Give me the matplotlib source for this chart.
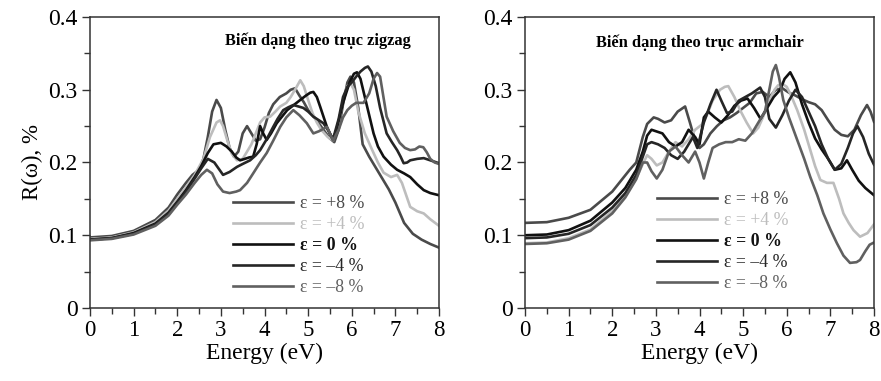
import matplotlib
matplotlib.use("Agg")
import matplotlib.pyplot as plt
from matplotlib.ticker import MultipleLocator, FuncFormatter

plt.rcParams['font.family'] = ['Liberation Serif', 'DejaVu Serif']
plt.rcParams['mathtext.fontset'] = 'stix'

labels = ["ε = +8 %", "ε = +4 %", "ε = 0 %", "ε = –4 %", "ε = –8 %"]
colors = ['#4a4a4a', '#bdbdbd', '#111111', '#262626', '#606060']
panel_titles = ["Biến dạng theo trục zigzag", "Biến dạng theo trục armchair"]
xlabel = "Energy (eV)"
ylabel = "R(ω), %"

# ---- zigzag strain ----
zz_p8_E = [0, 0.5, 1.0, 1.5, 1.8, 2.0, 2.2, 2.35, 2.5, 2.6, 2.7, 2.8, 2.9, 3.0, 3.1, 3.2, 3.3, 3.4, 3.5, 3.6,
           3.7, 3.8, 3.9, 4.0, 4.1, 4.2, 4.35, 4.5, 4.6, 4.7, 4.8, 4.9, 5.0, 5.1, 5.2, 5.35, 5.5, 5.6, 5.7, 5.8,
           5.9, 5.97, 6.05, 6.15, 6.25, 6.4, 6.55, 6.7, 6.85, 7.0, 7.2, 7.4, 7.6, 7.8, 8.0]
zz_p8_R = [0.097, 0.099, 0.106, 0.121, 0.138, 0.156, 0.172, 0.183, 0.19, 0.205, 0.235, 0.27, 0.286, 0.275, 0.245,
           0.22, 0.208, 0.215, 0.24, 0.25, 0.24, 0.23, 0.232, 0.248, 0.268, 0.28, 0.29, 0.295, 0.3, 0.302,
           0.292, 0.283, 0.272, 0.265, 0.258, 0.245, 0.233, 0.228, 0.245, 0.28, 0.31, 0.318, 0.31, 0.275, 0.225,
           0.208, 0.193, 0.178, 0.163, 0.145, 0.117, 0.102, 0.094, 0.088, 0.083]

zz_p4_E = [0, 0.5, 1.0, 1.5, 1.8, 2.0, 2.2, 2.4, 2.6, 2.75, 2.9, 2.98, 3.05, 3.15, 3.25, 3.37, 3.5, 3.6, 3.7, 3.8,
           3.9, 4.0, 4.13, 4.25, 4.36, 4.5, 4.6, 4.7, 4.82, 4.9, 5.0, 5.1, 5.2, 5.3, 5.45, 5.57, 5.7, 5.8, 5.9, 5.97,
           6.05, 6.15, 6.3, 6.47, 6.6, 6.73, 6.9, 7.04, 7.15, 7.34, 7.5, 7.65, 7.8, 8.0]
zz_p4_R = [0.095, 0.097, 0.104, 0.118, 0.134, 0.15, 0.166, 0.183, 0.205, 0.235, 0.255, 0.258, 0.25, 0.23, 0.212,
           0.203, 0.205, 0.215, 0.225, 0.24, 0.255, 0.262, 0.263, 0.27, 0.277, 0.282, 0.29, 0.3, 0.313, 0.305,
           0.286, 0.268, 0.255, 0.245, 0.235, 0.23, 0.255, 0.285, 0.305, 0.309, 0.3, 0.27, 0.24, 0.217, 0.2,
           0.186, 0.18, 0.183, 0.172, 0.139, 0.133, 0.13, 0.122, 0.113]

zz_0_E = [0, 0.5, 1.0, 1.5, 1.8, 2.0, 2.2, 2.4, 2.55, 2.7, 2.83, 3.0, 3.13, 3.25, 3.35, 3.44, 3.55, 3.65, 3.74, 3.82,
          3.9, 3.97, 4.05, 4.15, 4.28, 4.4, 4.52, 4.65, 4.82, 4.95, 5.05, 5.12, 5.2, 5.28, 5.43, 5.57, 5.65, 5.8,
          5.95, 6.05, 6.12, 6.2, 6.3, 6.4, 6.5, 6.6, 6.73, 6.9, 7.04, 7.2, 7.34, 7.5, 7.65, 7.8, 8.0]
zz_0_R = [0.094, 0.096, 0.103, 0.116, 0.131, 0.146, 0.162, 0.18, 0.195, 0.213, 0.225, 0.227, 0.222, 0.215, 0.207,
          0.203, 0.205, 0.207, 0.208, 0.225, 0.25, 0.24, 0.231, 0.24, 0.254, 0.263, 0.272, 0.278, 0.286, 0.292,
          0.296, 0.297, 0.29, 0.276, 0.249, 0.231, 0.245, 0.282, 0.31, 0.322, 0.324, 0.315, 0.29, 0.265, 0.24,
          0.222, 0.208, 0.197, 0.19, 0.185, 0.18, 0.17, 0.162, 0.158, 0.155]

zz_m4_E = [0, 0.5, 1.0, 1.5, 1.8, 2.0, 2.2, 2.4, 2.55, 2.7, 2.85, 3.05, 3.2, 3.37, 3.5, 3.67, 3.8, 3.9, 4.05, 4.2,
           4.3, 4.43, 4.55, 4.66, 4.78, 4.89, 5.0, 5.12, 5.25, 5.35, 5.45, 5.57, 5.7, 5.8, 5.9, 6.0, 6.1, 6.2, 6.3,
           6.37, 6.45, 6.55, 6.65, 6.8, 6.92, 7.04, 7.12, 7.19, 7.27, 7.34, 7.5, 7.65, 7.8, 8.0]
zz_m4_R = [0.094, 0.096, 0.102, 0.115, 0.13, 0.145, 0.16, 0.178, 0.192, 0.205, 0.2, 0.183, 0.187, 0.194, 0.198,
           0.203, 0.21, 0.217, 0.232, 0.249, 0.26, 0.272, 0.276, 0.279, 0.277, 0.275, 0.27, 0.263, 0.258, 0.254,
           0.245, 0.232, 0.26, 0.29, 0.304, 0.31, 0.318, 0.325, 0.33, 0.332, 0.325, 0.305, 0.275, 0.24, 0.228,
           0.217, 0.208, 0.199, 0.2, 0.203, 0.205, 0.206, 0.203, 0.199]

zz_m8_E = [0, 0.5, 1.0, 1.5, 1.8, 2.0, 2.2, 2.4, 2.55, 2.68, 2.8, 2.92, 3.05, 3.2, 3.35, 3.44, 3.6, 3.74, 3.9, 4.05,
           4.2, 4.36, 4.5, 4.66, 4.8, 4.97, 5.12, 5.25, 5.43, 5.57, 5.7, 5.8, 5.9, 6.0, 6.1, 6.27, 6.4, 6.5, 6.58,
           6.65, 6.8, 6.95, 7.1, 7.22, 7.34, 7.45, 7.55, 7.64, 7.72, 7.8, 7.9, 8.0]
zz_m8_R = [0.093, 0.095, 0.101, 0.113, 0.127, 0.142, 0.156, 0.172, 0.183, 0.19, 0.185, 0.17, 0.16, 0.158, 0.16,
           0.162, 0.172, 0.185, 0.2, 0.213, 0.23, 0.249, 0.262, 0.272, 0.265, 0.254, 0.24, 0.243, 0.249, 0.23,
           0.245, 0.262, 0.272, 0.278, 0.282, 0.282, 0.295, 0.315, 0.323, 0.318, 0.263, 0.243, 0.227, 0.22, 0.217,
           0.218, 0.222, 0.221, 0.214, 0.205, 0.2, 0.198]

# ---- armchair strain ----
ac_p8_E = [0, 0.5, 1.0, 1.5, 2.0, 2.2, 2.4, 2.55, 2.7, 2.8, 2.95, 3.05, 3.2, 3.35, 3.5, 3.67, 3.78, 3.9, 4.0, 4.1,
           4.25, 4.4, 4.55, 4.7, 4.85, 5.0, 5.15, 5.3, 5.45, 5.6, 5.75, 5.9, 6.05, 6.2, 6.35, 6.5, 6.65, 6.8, 6.95,
           7.1, 7.25, 7.4, 7.55, 7.7, 7.84, 7.92, 8.0]
ac_p8_R = [0.117, 0.118, 0.124, 0.135, 0.16, 0.175, 0.19, 0.2, 0.235, 0.253, 0.262, 0.26, 0.255, 0.258, 0.27,
           0.277, 0.255, 0.23, 0.22, 0.225, 0.24, 0.25, 0.258, 0.262, 0.268, 0.275, 0.282, 0.295, 0.297, 0.29,
           0.3, 0.302, 0.296, 0.292, 0.287, 0.283, 0.28, 0.272, 0.258, 0.245, 0.238, 0.236, 0.245, 0.265, 0.279,
           0.27, 0.256]

ac_p4_E = [0, 0.5, 1.0, 1.5, 2.0, 2.3, 2.55, 2.7, 2.8, 2.9, 3.02, 3.15, 3.3, 3.45, 3.6, 3.75, 3.9, 4.05, 4.17, 4.3,
           4.47, 4.58, 4.66, 4.8, 4.93, 5.08, 5.23, 5.35, 5.46, 5.6, 5.72, 5.8, 5.9, 6.0, 6.1, 6.24, 6.4, 6.54,
           6.65, 6.77, 6.92, 7.07, 7.2, 7.3, 7.42, 7.53, 7.68, 7.85, 8.0]
ac_p4_R = [0.089, 0.09, 0.096, 0.108, 0.133, 0.155, 0.178, 0.198, 0.21, 0.205, 0.196, 0.2, 0.215, 0.228, 0.222,
           0.232, 0.245, 0.252, 0.265, 0.285, 0.3, 0.304, 0.305, 0.29, 0.272, 0.255, 0.24, 0.248, 0.263, 0.285,
           0.3, 0.306, 0.308, 0.304, 0.292, 0.272, 0.245, 0.217, 0.195, 0.176, 0.172, 0.172, 0.15, 0.13, 0.117,
           0.107, 0.098, 0.103, 0.115]

ac_0_E = [0, 0.5, 1.0, 1.5, 2.0, 2.3, 2.55, 2.7, 2.8, 2.9, 3.0, 3.15, 3.3, 3.45, 3.6, 3.75, 3.9, 4.0, 4.1, 4.2,
          4.35, 4.5, 4.65, 4.8, 4.95, 5.1, 5.25, 5.4, 5.55, 5.7, 5.85, 5.95, 6.08, 6.2, 6.35, 6.5, 6.65, 6.8, 6.95,
          7.1, 7.25, 7.38, 7.5, 7.65, 7.8, 7.9, 8.0]
ac_0_R = [0.1, 0.101, 0.107, 0.12, 0.145, 0.165, 0.19, 0.215, 0.237, 0.245, 0.243, 0.24, 0.228, 0.222, 0.228,
          0.245, 0.235, 0.225, 0.262, 0.27, 0.262, 0.255, 0.265, 0.278, 0.285, 0.288, 0.275, 0.26, 0.275, 0.29,
          0.3, 0.315, 0.324, 0.31, 0.28, 0.255, 0.233, 0.218, 0.205, 0.19, 0.192, 0.203, 0.19, 0.175, 0.165,
          0.16, 0.155]

ac_m4_E = [0, 0.5, 1.0, 1.5, 2.0, 2.3, 2.55, 2.7, 2.8, 2.9, 3.05, 3.2, 3.35, 3.5, 3.65, 3.75, 3.85, 3.95, 4.1, 4.25,
           4.39, 4.5, 4.63, 4.75, 4.9, 5.05, 5.2, 5.39, 5.5, 5.6, 5.75, 5.9, 6.05, 6.2, 6.35, 6.5, 6.65, 6.8, 6.95,
           7.1, 7.25, 7.4, 7.52, 7.62, 7.75, 7.88, 8.0]
ac_m4_R = [0.096, 0.097, 0.102, 0.114, 0.138, 0.158, 0.183, 0.208, 0.225, 0.228, 0.225, 0.22, 0.21, 0.205, 0.215,
           0.225, 0.235, 0.22, 0.255, 0.28, 0.3, 0.285, 0.268, 0.27, 0.285, 0.29, 0.295, 0.303, 0.29, 0.26,
           0.248, 0.265, 0.285, 0.3, 0.29, 0.27, 0.25, 0.225, 0.205, 0.19, 0.198, 0.22, 0.24, 0.25, 0.235,
           0.212, 0.197]

ac_m8_E = [0, 0.5, 1.0, 1.5, 2.0, 2.3, 2.55, 2.7, 2.8, 2.9, 3.02, 3.15, 3.3, 3.45, 3.6, 3.75, 3.9, 4.0, 4.1, 4.2,
           4.3, 4.45, 4.6, 4.75, 4.9, 5.05, 5.2, 5.35, 5.5, 5.6, 5.68, 5.75, 5.82, 5.92, 6.05, 6.24, 6.4, 6.54, 6.7,
           6.84, 7.0, 7.15, 7.3, 7.45, 7.6, 7.68, 7.8, 7.9, 8.0]
ac_m8_R = [0.088, 0.089, 0.094, 0.106, 0.13, 0.152, 0.177, 0.2, 0.2, 0.188, 0.178, 0.19, 0.215, 0.222, 0.21,
           0.2, 0.215, 0.2, 0.178, 0.2, 0.22, 0.225, 0.228, 0.228, 0.232, 0.23, 0.24, 0.255, 0.27, 0.3, 0.325,
           0.334, 0.318, 0.286, 0.262, 0.231, 0.205, 0.18, 0.155, 0.13, 0.108, 0.089, 0.072, 0.062, 0.063,
           0.066, 0.078, 0.087, 0.09]

panels = [
    [(zz_p8_E, zz_p8_R), (zz_p4_E, zz_p4_R), (zz_0_E, zz_0_R), (zz_m4_E, zz_m4_R), (zz_m8_E, zz_m8_R)],
    [(ac_p8_E, ac_p8_R), (ac_p4_E, ac_p4_R), (ac_0_E, ac_0_R), (ac_m4_E, ac_m4_R), (ac_m8_E, ac_m8_R)],
]

W, H = 881, 381
fig = plt.figure(figsize=(W / 100, H / 100), dpi=100)
ax_rects = [
    [90 / W, 1 - 308 / H, (439 - 90) / W, (308 - 17) / H],
    [525 / W, 1 - 308 / H, (874 - 525) / W, (308 - 17) / H],
]
legend_anchor = [(233 / W, 1 - 195 / H), (657 / W, 1 - 191 / H)]
title_pos = [(0.652, 0.918), (0.501, 0.911)]

spine_col = '#333333'
fmt = FuncFormatter(lambda v, p: "0" if abs(v) < 1e-9 else f"{v:g}")

for k in range(2):
    ax = fig.add_axes(ax_rects[k])
    for (E, R), c, lab in zip(panels[k], colors, labels):
        assert len(E) == len(R)
        ax.plot(E, R, color=c, lw=1.9, label=lab, solid_joinstyle='round')
    ax.set_xlim(0, 8)
    ax.set_ylim(0, 0.4)
    ax.xaxis.set_major_locator(MultipleLocator(1))
    ax.xaxis.set_minor_locator(MultipleLocator(0.5))
    ax.yaxis.set_major_locator(MultipleLocator(0.1))
    ax.yaxis.set_minor_locator(MultipleLocator(0.05))
    ax.yaxis.set_major_formatter(fmt)
    ax.tick_params(which='both', direction='out', color=spine_col, width=1.0,
                   top=False, right=False)
    ax.tick_params(which='major', length=6)
    ax.tick_params(which='minor', length=4.5)
    ax.tick_params(axis='x', labelsize=16.5, pad=3)
    ax.tick_params(axis='y', labelsize=17, pad=3)
    for s in ax.spines.values():
        s.set_color(spine_col)
        s.set_linewidth(1.1)
    ax.set_xlabel(xlabel, fontsize=17, labelpad=1)
    if k == 0:
        ax.set_ylabel(ylabel, fontsize=16.5, labelpad=4)
    ax.text(*title_pos[k], panel_titles[k], transform=ax.transAxes, ha='center', va='center',
            fontsize=11.8, fontweight='bold')
    leg = fig.legend(*ax.get_legend_handles_labels(), loc='upper left', bbox_to_anchor=legend_anchor[k],
                     frameon=False, fontsize=12.8, handlelength=3.37, handletextpad=0.4,
                     labelspacing=0.23, borderpad=0, borderaxespad=0)
    for t, c in zip(leg.get_texts(), colors):
        t.set_color(c)
    leg.get_texts()[2].set_fontweight('bold')

fig.savefig("out.png", dpi=100)
